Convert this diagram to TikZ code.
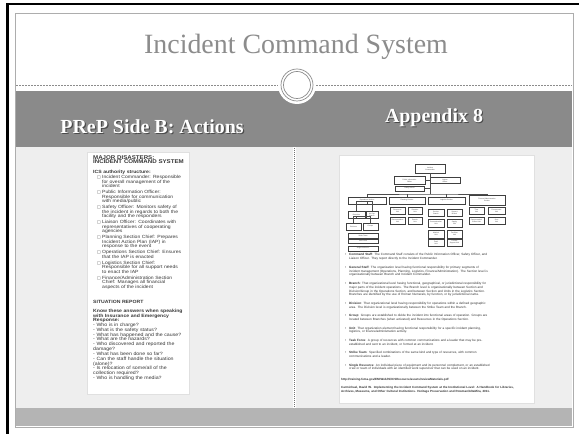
\documentclass[tikz,border=0pt]{standalone}
\usepackage{fontspec}
\setmainfont{Liberation Serif}
\newfontfamily\docsans{Liberation Sans}
\newfontfamily\docwide{Liberation Sans}[FakeStretch=1.12]
\newfontfamily\docsym{DejaVu Sans}
\definecolor{titlegray}{HTML}{8C8C8C}
\definecolor{bandgray}{HTML}{8A8A8A}
\definecolor{panelgray}{HTML}{EEEEEE}
\definecolor{footgray}{HTML}{B4B4B4}
\definecolor{framegray}{HTML}{ADADAD}
\newcommand\cnt{\newline\hspace*{5pt}}
\newcommand\rcnt{\newline\hspace*{4pt}}
\newcommand\chk{\makebox[5pt][l]{\docsym\fontsize{3.8}{3.8}\selectfont □}}
\newcommand\bul{\makebox[4pt][l]{•}}
\tikzset{
  heading/.style={font=\fontsize{20}{22}\selectfont\bfseries, text=white, inner sep=0pt},
  headshadow/.style={font=\fontsize{20}{22}\selectfont\bfseries, text=black, opacity=0.45, inner sep=0pt},
  docpage/.style={draw=black!12, fill=white, anchor=north west, inner sep=0pt},
  ldoctxt/.style={font=\docwide\fontsize{4.55}{4.5}\selectfont, text=black!78, align=left, anchor=north west, inner sep=0pt, text width=#1},
  ldocbold/.style={font=\docwide\bfseries\fontsize{4.6}{4.2}\selectfont, text=black!78, align=left, anchor=north west, inner sep=0pt, text width=#1},
  rdoctxt/.style={font=\docsans\fontsize{3.1}{3.8}\selectfont, text=black!80, align=left, anchor=north west, inner sep=0pt, text width=#1},
  rdocbold/.style={font=\docsans\bfseries\fontsize{3.0}{4.0}\selectfont, text=black!80, align=left, anchor=north west, inner sep=0pt, text width=#1},
  orgbox/.style={draw=black!75, line width=0.45bp, fill=white, inner sep=0pt, align=center,
    font=\docsans\fontsize{1.7}{1.9}\selectfont, text=black!75},
  obox/.style 2 args={orgbox, minimum width=#1bp, minimum height=#2bp},
  orgline/.style={draw=black!70, line width=0.4bp},
}
\begin{document}
\begin{tikzpicture}[x=1bp,y=-1bp]
\useasboundingbox (0,0) rectangle (579,434);
\fill[white] (0,0) rectangle (579,434);
% outer black frame (top and left)
\fill[black] (6,3) rectangle (579,5.5);
\fill[black] (6,3) rectangle (8.5,434);
% slide frame
\draw[framegray, line width=1bp] (15,13.5) rectangle (573,427);
% title
\node[font=\fontsize{28}{30}\selectfont, text=titlegray, inner sep=0pt] (title) at (296,47) {Incident Command System};
% dashed rule
\draw[titlegray, line width=0.6bp, dash pattern=on 2bp off 1bp] (16,85) -- (572,85);
% header band
\fill[bandgray] (16,91) rectangle (572,147.5);
% ring
\node[circle, fill=white, minimum size=38bp, inner sep=0pt] (ringbg) at (297,85) {};
\node[circle, draw=black!45, line width=0.7bp, minimum size=32bp, inner sep=0pt] (ringout) at (297,85) {};
\node[circle, draw=black!45, line width=0.7bp, minimum size=27bp, inner sep=0pt] (ringin) at (297,85) {};
% headings
\node[headshadow] (hlsh) at (153.2,128.2) {PReP Side B: Actions};
\node[heading] (hl) at (152,127) {PReP Side B: Actions};
\node[headshadow] (hrsh) at (435.2,119.2) {Appendix 8};
\node[heading] (hr) at (434,118) {Appendix 8};
% panels
\fill[panelgray] (16,147.5) rectangle (292.5,407.5);
\fill[panelgray] (296,147.5) rectangle (572,407.5);
\draw[black!55, line width=0.6bp, dash pattern=on 1bp off 1bp] (294.3,148) -- (294.3,407.5);
\fill[footgray] (16,407.5) rectangle (572,426);

% ---------------- left document ----------------
\node[docpage, minimum width=102bp, minimum height=242bp] (ldoc) at (87,152) {};
\node[ldocbold=130bp, font=\docwide\bfseries\fontsize{5.5}{4.4}\selectfont] (lt1) at (93,155.5) {MAJOR DISASTERS:\newline INCIDENT COMMAND SYSTEM};
\node[ldocbold=130bp] (lt2) at (93,169.5) {ICS authority structure:};
\node[ldoctxt=130bp] (litems) at (97,175.5) {%
\chk Incident Commander: Responsible\cnt for overall management of the\cnt incident\par\vspace{1.5pt}
\chk Public Information Officer:\cnt Responsible for communication\cnt with media/public\par\vspace{1.5pt}
\chk Safety Officer: Monitors safety of\cnt the incident in regards to both the\cnt facility and the responders\par\vspace{1.5pt}
\chk Liaison Officer: Coordinates with\cnt representatives of cooperating\cnt agencies\par\vspace{1.5pt}
\chk Planning Section Chief: Prepares\cnt Incident Action Plan (IAP) in\cnt response to the event\par\vspace{1.5pt}
\chk Operations Section Chief: Ensures\cnt that the IAP is enacted\par\vspace{1.5pt}
\chk Logistics Section Chief:\cnt Responsible for all support needs\cnt to enact the IAP\par\vspace{1.5pt}
\chk Finance/Administration Section\cnt Chief: Manages all financial\cnt aspects of the incident};
\node[ldocbold=130bp] (lt3) at (93,300) {SITUATION REPORT};
\node[ldocbold=130bp] (lt4) at (93,308.5) {Know these answers when speaking\newline with Insurance and Emergency\newline Response:};
\node[ldoctxt=130bp, font=\docwide\fontsize{4.7}{4.85}\selectfont] (lt5) at (93,322.8) {%
- Who is in charge?\newline
- What is the safety status?\newline
- What has happened and the cause?\newline
- What are the hazards?\newline
- Who discovered and reported the\newline damage?\newline
- What has been done so far?\newline
- Can the staff handle the situation\newline (alone)?\newline
- Is relocation of some/all of the\newline collection required?\newline
- Who is handling the media?};

% ---------------- right document ----------------
\node[docpage, minimum width=195bp, minimum height=248bp] (rdoc) at (339,155) {};
% org chart
\node[obox={30}{9}] (ic) at (430,168.5) {Incident\\Commander};
\node[obox={31}{8}] (pio) at (409.5,180.5) {Public Information\\Officer};
\node[obox={30}{6}] (lia) at (445,180.5) {Liaison\\Officer};
\node[obox={29}{5}] (saf) at (409.5,188.5) {Safety Officer};
\node[obox={38}{7}] (ops) at (367,200.5) {Operations Section};
\node[obox={36}{7}] (pla) at (407,200.5) {Planning Section};
\node[obox={37}{7}] (logs) at (446.5,200.5) {Logistics Section};
\node[obox={36}{10}] (fin) at (487,200) {Finance/Administration\\Section};
\coordinate (bus) at (430,194);
\draw[orgline] (ic.south) -- (bus);
\draw[orgline] (pio.east) -- (lia.west);
\draw[orgline] (saf.east) -- (saf.east -| ic.south);
\draw[orgline] (ops.north) |- (bus) -| (fin.north);
\draw[orgline] (pla.north) -- (pla.north |- bus);
\draw[orgline] (logs.north) -- (logs.north |- bus);
% operations
\node[obox={17}{7}] (brn) at (356.5,214.5) {Branches};
\node[obox={12}{7}] (air) at (372,214.5) {Air Ops\\Branch};
\node[obox={15}{7}] (divs) at (353.5,226.5) {Divisions};
\node[obox={15}{7}] (grps) at (370.5,226.5) {Groups};
\node[obox={30}{4.5}] (stk) at (363,235.5) {Strike Team};
\node[obox={30}{4.5}] (tsk) at (363,241) {Task Force};
\node[obox={30}{5}] (sgl) at (363,248.5) {Single Resource};
\draw[orgline] (ops.south) -- ++(0,-3) -| (brn.north);
\draw[orgline] (ops.south) -- ++(0,-3) -| (air.north);
\draw[orgline] (brn.south) -- ++(0,-2) -| (divs.north);
\draw[orgline] (brn.south) -- ++(0,-2) -| (grps.north);
% planning
\node[obox={15}{7}] (resu) at (397.5,210.5) {Resources\\Unit};
\node[obox={14}{7}] (situ) at (415,210.5) {Situation\\Unit};
\node[obox={15}{7}] (docu) at (397.5,220.5) {Documentation\\Unit};
\node[obox={14}{7}] (dmbu) at (415,220.5) {Demob.\\Unit};
% logistics
\node[obox={16}{7}] (srv) at (436,212.5) {Service\\Branch};
\node[obox={15}{7}] (supb) at (454.5,212.5) {Support\\Branch};
\node[obox={16}{8}] (comu) at (436,223) {Communication\\Unit};
\node[obox={15}{8}] (splu) at (454.5,223) {Supply\\Unit};
\node[obox={16}{8}] (medu) at (436,234) {Medical\\Unit};
\node[obox={15}{8}] (facu) at (454.5,234) {Facilities\\Unit};
\node[obox={16}{7}] (food) at (436,242.5) {Food\\Unit};
\node[obox={15}{7}] (gsu) at (454.5,242.5) {Ground\\Support Unit};
% finance
\node[obox={15}{7}] (timu) at (476.5,210.5) {Time\\Unit};
\node[obox={17}{7}] (proc) at (496.5,210.5) {Procurement\\Unit};
\node[obox={15}{7}] (cmpu) at (476.5,220.5) {Compensation/\\Claims Unit};
\node[obox={17}{7}] (cstu) at (496.5,220.5) {Cost\\Unit};
% definitions
\node[rdoctxt=170bp] (rdefs) at (345,253.5) {%
\bul\textbf{Command Staff}: The Command Staff consists of the Public Information Officer, Safety Officer, and\rcnt Liaison Officer. They report directly to the Incident Commander.\par\vspace{4.8pt}
\bul\textbf{General Staff}: The organization level having functional responsibility for primary segments of\rcnt incident management (Operations, Planning, Logistics, Finance/Administration). The Section level is\rcnt organizationally between Branch and Incident Commander.\par\vspace{4.8pt}
\bul\textbf{Branch}: That organizational level having functional, geographical, or jurisdictional responsibility for\rcnt major parts of the incident operations. The Branch level is organizationally between Section and\rcnt Division/Group in the Operations Section, and between Section and Units in the Logistics Section.\rcnt Branches are identified by the use of Roman Numerals, by function, or by jurisdictional name.\par\vspace{4.8pt}
\bul\textbf{Division}: That organizational level having responsibility for operations within a defined geographic\rcnt area. The Division level is organizationally between the Strike Team and the Branch.\par\vspace{4.8pt}
\bul\textbf{Group}: Groups are established to divide the incident into functional areas of operation. Groups are\rcnt located between Branches (when activated) and Resources in the Operations Section.\par\vspace{4.8pt}
\bul\textbf{Unit}: That organization element having functional responsibility for a specific incident planning,\rcnt logistics, or finance/administration activity.\par\vspace{4.8pt}
\bul\textbf{Task Force}: A group of resources with common communications and a leader that may be pre-\rcnt established and sent to an incident, or formed at an incident.\par\vspace{4.8pt}
\bul\textbf{Strike Team}: Specified combinations of the same kind and type of resources, with common\rcnt communications and a leader.\par\vspace{4.8pt}
\bul\textbf{Single Resource}: An individual piece of equipment and its personnel complement, or an established\rcnt crew or team of individuals with an identified work supervisor that can be used on an incident.};
\node[rdocbold=190bp] (rurl) at (341,378) {http://training.fema.gov/EMIWeb/IS/ICSResource/assets/reviewMaterials.pdf};
\node[rdocbold=196bp] (rcite) at (341,386) {Carmichael, David W. \ Implementing the Incident Command System at the Institutional Level: A Handbook for Libraries,\newline Archives, Museums, and Other Cultural Institutions. Heritage Preservation and Rowman/AltaMira, 2011.};
\end{tikzpicture}
\end{document}
